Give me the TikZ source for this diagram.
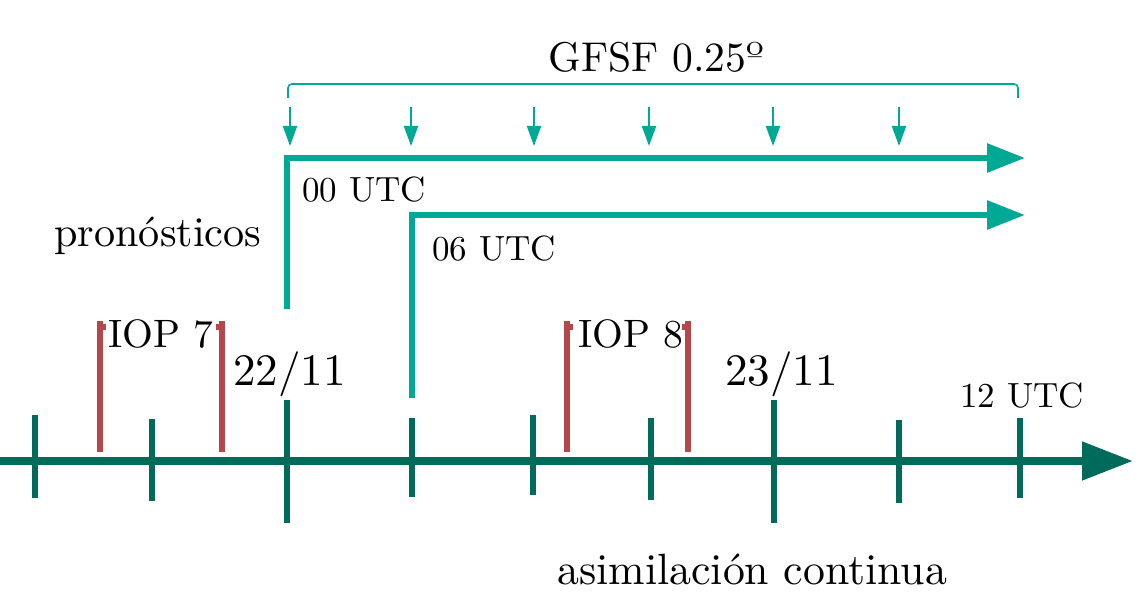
\documentclass[tikz,border=0pt]{standalone}
\usepackage{fontspec}
\setmainfont{lmroman10-regular.otf}
\usetikzlibrary{arrows.meta}
\definecolor{axisteal}{HTML}{006B5B}
\definecolor{lightteal}{HTML}{00A896}
\definecolor{iopred}{HTML}{B5474B}
\begin{document}
\begin{tikzpicture}[x=0.5pt,y=-0.5pt,
  axisline/.style={draw=axisteal,line width=4pt,-{Triangle[length=25.5pt,width=18.5pt]}},
  tickmark/.style={draw=axisteal,line width=3pt},
  iopline/.style={draw=iopred,line width=3pt},
  fcline/.style={draw=lightteal,line width=3pt,-{Triangle[length=19pt,width=14pt]}},
  smallarrow/.style={draw=lightteal,line width=1pt,-{Triangle[length=10pt,width=7pt]}},
  bracketline/.style={draw=lightteal,line width=0.8pt,rounded corners=2pt},
  txt/.style={inner sep=0pt,anchor=base west,font=\fontsize{#1}{1.2\dimexpr#1\relax}\selectfont},
  utctext/.style={txt=17.5pt}]
\useasboundingbox (0,0) rectangle (1147,615);
% axis
\coordinate (axS) at (0,461);
\coordinate (axE) at (1133,461);
\draw[axisline] (axS) -- (axE);
% small ticks
\foreach \n/\x/\a/\b in {t1/35/415/498,t2/152/419/501,t4/412/418/497,t5/533/415/495,t6/651/418/500,t8/899/420/503,t9/1020/418/498}{
  \coordinate (\n a) at (\x,\a);
  \coordinate (\n b) at (\x,\b);
  \draw[tickmark] (\n a) -- (\n b);
}
% big ticks
\foreach \n/\x in {t3/287,t7/774}{
  \coordinate (\n a) at (\x,400);
  \coordinate (\n b) at (\x,523);
  \draw[tickmark] (\n a) -- (\n b);
}
% IOP lines
\foreach \n/\x/\d in {r1/100/1,r2/222/-1,r3/567/1,r4/688/-1}{
  \coordinate (\n b) at (\x,452);
  \coordinate (\n t) at (\x,320.5);
  \coordinate (\n k) at (\x+6*\d,327);
  \draw[iopline] (\n b) -- (\n t);
  \draw[iopred,line width=3pt] (\x,327) -- (\n k);
}
% forecast arrows
\coordinate (f1s) at (287,309);
\coordinate (f1c) at (287,158);
\coordinate (f1e) at (1025,158);
\draw[fcline] (f1s) -- (f1c) -- (f1e);
\coordinate (f2s) at (412,398);
\coordinate (f2c) at (412,215);
\coordinate (f2e) at (1025,215);
\draw[fcline] (f2s) -- (f2c) -- (f2e);
% bracket
\coordinate (brL) at (288,98);
\coordinate (brR) at (1018,98);
\draw[bracketline] (brL) -- (288,84) -- (1018,84) -- (brR);
% small arrows
\foreach \n/\x in {s1/290,s2/411,s3/534,s4/649,s5/773,s6/899}{
  \coordinate (\n a) at (\x,107);
  \coordinate (\n b) at (\x,146);
  \draw[smallarrow] (\n a) -- (\n b);
}
% labels
\node[txt=20.8pt] (gfsf) at (548,72) {GFSF 0.25º};
\node[utctext] (u00) at (302,202) {00 UTC};
\node[utctext] (u06) at (432,260) {06 UTC};
\node[txt=21.1pt] (pron) at (54,247) {pronósticos};
\node[txt=19.8pt] (iop7) at (108,347) {IOP 7};
\node[txt=22.5pt] (d22) at (233,385) {22/11};
\node[txt=19.8pt] (iop8) at (578,347) {IOP 8};
\node[txt=22.5pt] (d23) at (725,385) {23/11};
\node[utctext] (u12) at (960,407) {12 UTC};
\node[txt=21.9pt] (asim) at (557,584) {asimilación continua};
\end{tikzpicture}
\end{document}
